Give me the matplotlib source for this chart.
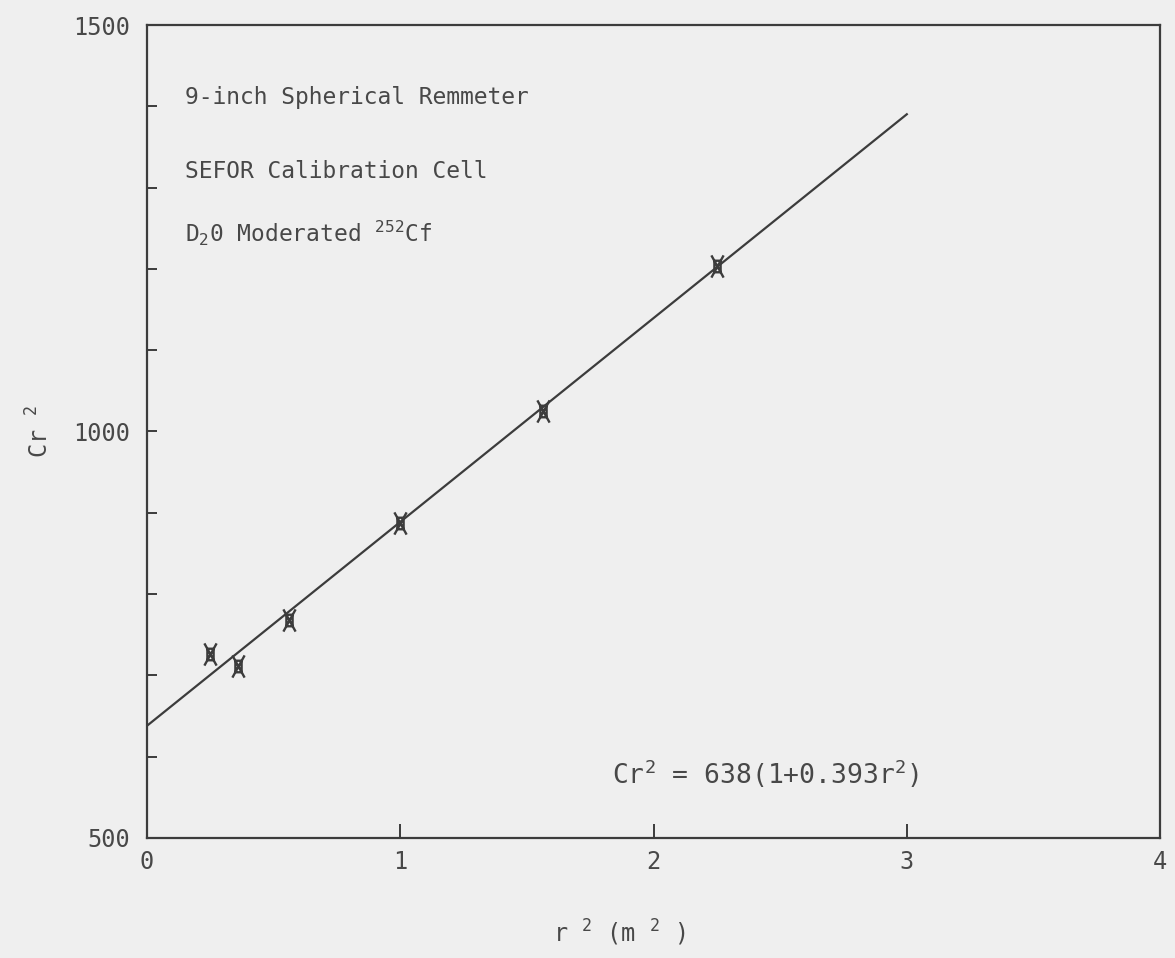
import numpy as np
import matplotlib.pyplot as plt
from matplotlib.path import Path
from matplotlib.ticker import MultipleLocator

# measured points (r^2 in m^2, Cr^2)
r2 = [0.25, 0.36, 0.5625, 1.0, 1.5625, 2.25]
cr2 = [726, 711, 768, 887, 1025, 1203]

# fit Cr^2 = A(1 + B r^2), drawn from 0 to 3
fit_a = 638
fit_b = 0.393
fit_range = [0, 3]

header_lines = ["9-inch Spherical Remmeter",
                "SEFOR Calibration Cell",
                "D$_2$0 Moderated $^{252}$Cf"]
header_y = [1411, 1320, 1244]

ink = "#3c3c3c"
txt = "#484848"
bg = "#efefef"

plt.rcParams['font.family'] = ['DejaVu Sans Mono']
plt.rcParams['mathtext.fontset'] = 'custom'
plt.rcParams['mathtext.rm'] = 'DejaVu Sans Mono'
plt.rcParams['mathtext.it'] = 'DejaVu Sans Mono'
plt.rcParams['mathtext.default'] = 'rm'

fig = plt.figure(figsize=(11.75, 9.58), dpi=100, facecolor=bg)
ax = fig.add_axes([0.1251, 0.1253, 0.8622, 0.8486], facecolor=bg)

# fitted line
xf = np.array(fit_range, dtype=float)
ax.plot(xf, fit_a * (1 + fit_b * xf), color=ink, lw=1.6)

# plotter symbol: small box with diagonal legs at the corners
box = Path([(-0.28, -0.52), (0.28, -0.52), (0.28, 0.52), (-0.28, 0.52), (-0.28, -0.52),
            (-0.55, -1.0), (0.55, 1.0), (-0.55, 1.0), (0.55, -1.0)],
           [Path.MOVETO, Path.LINETO, Path.LINETO, Path.LINETO, Path.CLOSEPOLY,
            Path.MOVETO, Path.LINETO, Path.MOVETO, Path.LINETO])
ax.plot(r2, cr2, linestyle='none', marker=box, markersize=16,
        markerfacecolor='none', markeredgecolor=ink, markeredgewidth=1.7)

ax.set_xlim(0, 4)
ax.set_ylim(500, 1500)
ax.xaxis.set_major_locator(MultipleLocator(1))
ax.yaxis.set_major_locator(MultipleLocator(500))
ax.yaxis.set_minor_locator(MultipleLocator(100))
ax.tick_params(axis='both', which='both', direction='in', color=ink, width=1.4,
               labelcolor=txt, labelsize=17)
ax.tick_params(axis='y', which='both', length=7, pad=12)
ax.tick_params(axis='x', which='major', length=10, pad=9)
for s in ax.spines.values():
    s.set_color(ink)
    s.set_linewidth(1.6)

ax.set_xlabel("r $^2$ (m $^2$ )", fontsize=17, color=txt)
ax.xaxis.set_label_coords(0.466, -0.098)
ax.set_ylabel("Cr $^2$", fontsize=17, color=txt, labelpad=14)

for t, y in zip(header_lines, header_y):
    ax.text(0.15, y, t, fontsize=16.5, color=txt, va='center')

ax.text(1.836, 579, "Cr$^2$ = %d(1+%.3fr$^2$)" % (fit_a, fit_b), fontsize=19,
        color=txt, va='center')

fig.savefig("out.png", dpi=100, facecolor=bg)
